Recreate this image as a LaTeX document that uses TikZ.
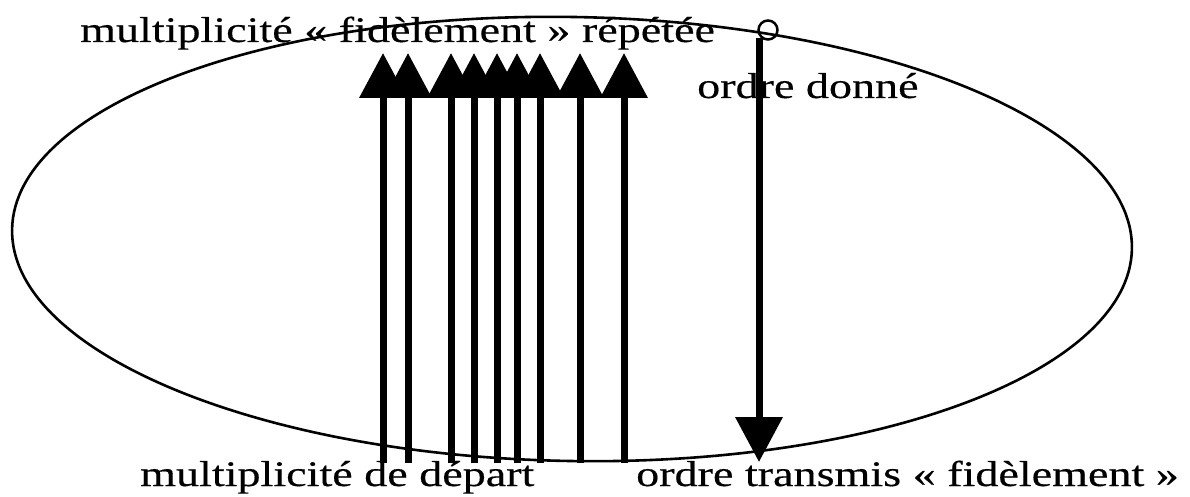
\documentclass[tikz,border=0pt]{standalone}
\usepackage{fontspec}
\setmainfont{Liberation Serif}[FakeStretch=1.28, FakeBold=0.4]
\usetikzlibrary{arrows.meta}
\tikzset{
  lab/.style={anchor=base west, inner sep=0pt, font=\fontsize{36}{40}\selectfont},
  fatarrow/.style={line width=7pt, -{Triangle[width=46pt,length=45pt]}},
}
\begin{document}
\begin{tikzpicture}[x=1pt,y=1pt]
\useasboundingbox (0,0) rectangle (1190,496);
% ellipse
\draw[line width=2.6pt, rotate around={-1:(572,257)}] (572,257) ellipse [x radius=560, y radius=222];
% up arrows
\foreach \i/\x in {1/383,2/408,3/451,4/474,5/497,6/517,7/540,8/580,9/624}{
  \coordinate (b\i) at (\x,33);
  \coordinate (t\i) at (\x,443);
  \draw[fatarrow] (b\i) -- (t\i);
}
% down arrow with circle
\node[circle, draw, line width=2.5pt, minimum size=19pt, inner sep=0pt] (c) at (768,466) {};
\coordinate (s) at (759,458);
\coordinate (e) at (759,34);
\draw[fatarrow] (s) -- (e);
% labels
\node[lab] (top) at (80,454) {multiplicité « fidèlement » répétée};
\node[lab] (od) at (697,398) {ordre donné};
\node[lab] (md) at (140,10) {multiplicité de départ};
\node[lab] (ot) at (636,10) {ordre transmis « fidèlement »};
\end{tikzpicture}
\end{document}
